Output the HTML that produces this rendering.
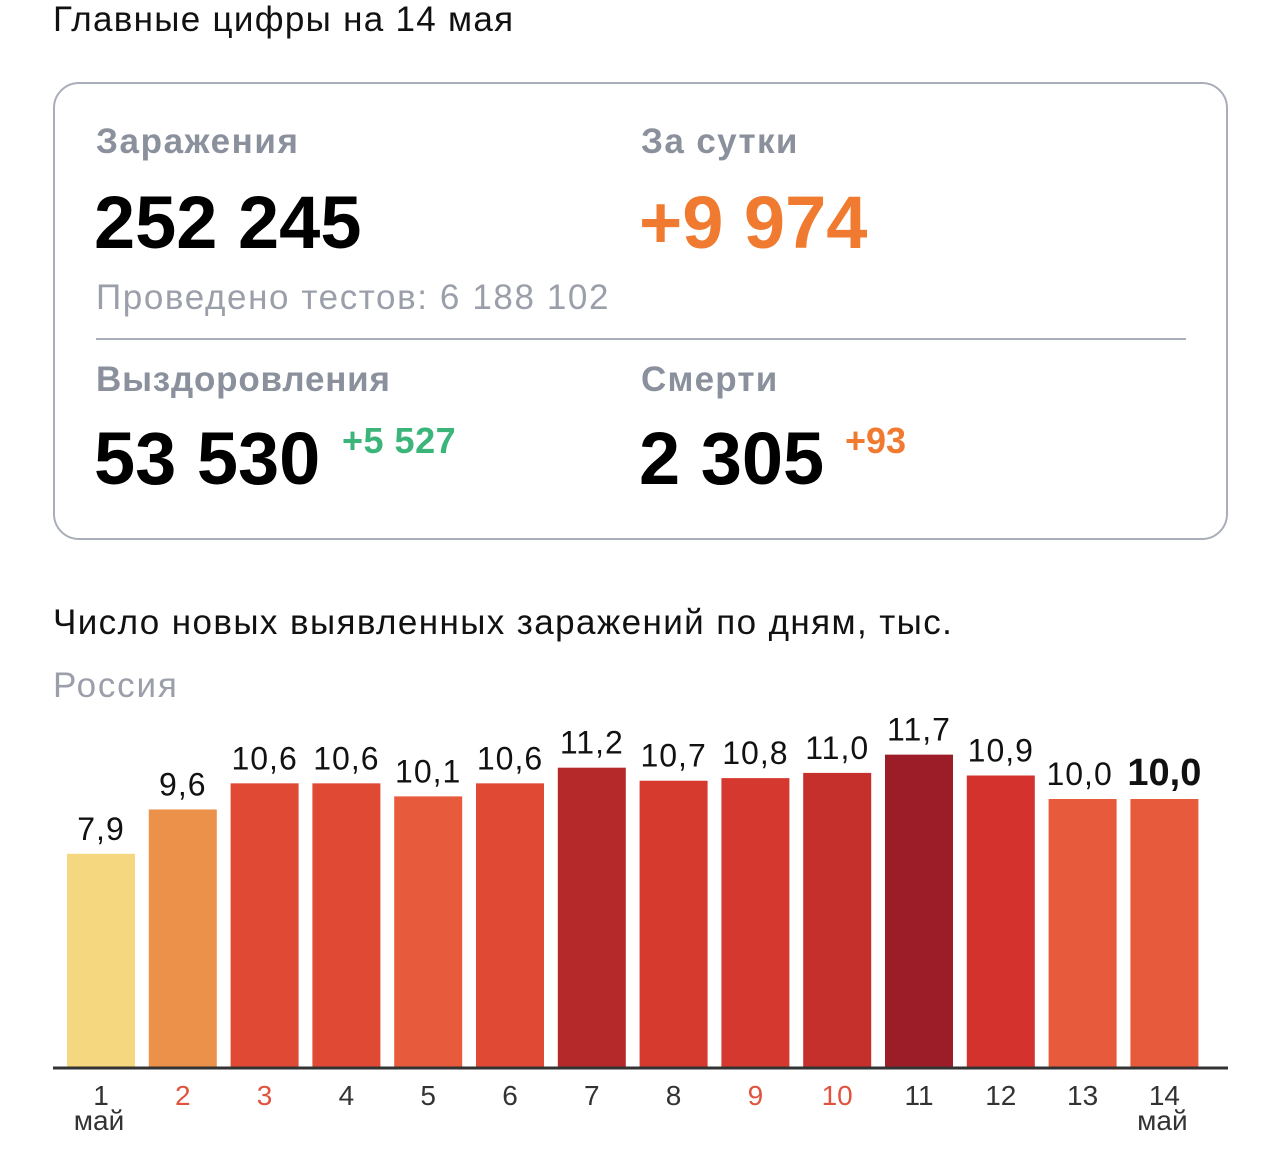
<!DOCTYPE html>
<html><head><meta charset="utf-8"><style>
body{margin:0;width:1280px;height:1156px;background:#fff;font-family:"Liberation Sans",sans-serif;position:relative;overflow:hidden}
.a{position:absolute;white-space:nowrap}
</style></head><body>
<div class="a" style="left:53px;top:0px;font-size:35px;letter-spacing:1.3px;color:#111">Главные цифры на 14 мая</div>
<div class="a" style="left:53px;top:82px;width:1171px;height:454px;border:2.5px solid #a9aeb8;border-radius:26px"></div>
<div class="a" style="left:96px;top:122px;font-size:35px;letter-spacing:1.6px;color:#8a909c;font-weight:bold">Заражения</div>
<div class="a" style="left:94px;top:180px;font-size:74px;font-weight:bold;color:#000;letter-spacing:0px">252 245</div>
<div class="a" style="left:96px;top:278px;font-size:35px;letter-spacing:1.6px;color:#9a9fa9">Проведено тестов: 6 188 102</div>
<div class="a" style="left:641px;top:122px;font-size:35px;letter-spacing:1.4px;color:#8a909c;font-weight:bold">За сутки</div>
<div class="a" style="left:639px;top:180px;font-size:74px;font-weight:bold;color:#ef7a30;letter-spacing:0px">+9 974</div>
<div class="a" style="left:96px;top:338px;width:1090px;height:2px;background:#a9aeb8"></div>
<div class="a" style="left:96px;top:360px;font-size:35px;letter-spacing:0.8px;color:#8a909c;font-weight:bold">Выздоровления</div>
<div class="a" style="left:94px;top:416px;font-size:74px;font-weight:bold;color:#000;letter-spacing:0px">53 530</div>
<div class="a" style="left:342px;top:420px;font-size:36px;font-weight:bold;color:#3bb57a;letter-spacing:0.5px">+5 527</div>
<div class="a" style="left:641px;top:360px;font-size:35px;letter-spacing:1.2px;color:#8a909c;font-weight:bold">Смерти</div>
<div class="a" style="left:639px;top:416px;font-size:74px;font-weight:bold;color:#000;letter-spacing:0px">2 305</div>
<div class="a" style="left:845px;top:420px;font-size:36px;font-weight:bold;color:#ef7a30;letter-spacing:0px">+93</div>
<div class="a" style="left:53px;top:603px;font-size:35px;letter-spacing:1.4px;color:#111">Число новых выявленных заражений по дням, тыс.</div>
<div class="a" style="left:53px;top:666px;font-size:35px;letter-spacing:1.8px;color:#9a9fa9">Россия</div>
<svg class="a" style="left:0;top:0" width="1280" height="1156" id="chart"></svg>
<script>
const days=["1","2","3","4","5","6","7","8","9","10","11","12","13","14"];
const values=[7.9,9.6,10.6,10.6,10.1,10.6,11.2,10.7,10.8,11.0,11.7,10.9,10.0,10.0];
const valueLabels=["7,9","9,6","10,6","10,6","10,1","10,6","11,2","10,7","10,8","11,0","11,7","10,9","10,0","10,0"];
const barColors=["#f5d77f","#ec914a","#e04a35","#e04a35","#e85a3c","#e04a35","#b5292a","#d63a2f","#d5382e","#c52f2c","#9c1d28","#d3332c","#e85a3c","#e85a3c"];
const holidayDays=["2","3","9","10"];
const NS="http://www.w3.org/2000/svg";
const svg=document.getElementById('chart');
const x=i=>67+i*81.8, bw=68, base=1067;
const y=v=>1060-26.1*v;
function mk(t,a){const e=document.createElementNS(NS,t);for(const k in a)e.setAttribute(k,a[k]);svg.appendChild(e);return e;}
values.forEach((v,i)=>{
  const r=mk('rect',{x:x(i),y:y(v),width:bw,height:base-y(v),fill:barColors[i]});
  
  
  const last=i===values.length-1;
  const t=mk('text',{x:x(i)+bw/2+(i===12?-3:0)+(last?0:0),y:y(v)-14,'text-anchor':'middle','font-size':last?38:32,'letter-spacing':last?0:1,'font-weight':last?'bold':'normal',fill:'#111','font-family':'Liberation Sans, sans-serif'});
  t.textContent=valueLabels[i];
  
  
  const d=mk('text',{x:x(i)+bw/2,y:1105,'text-anchor':'middle','font-size':28,fill:holidayDays.includes(days[i])?'#e0533f':'#333','font-family':'Liberation Sans, sans-serif'});
  d.textContent=days[i];
  
  
});
const ax=mk('line',{x1:53,x2:1228,y1:1068,y2:1068,stroke:'#333','stroke-width':3});


[0,13].forEach(i=>{
  const m=mk('text',{x:x(i)+bw/2-2,y:1130,'text-anchor':'middle','font-size':28,fill:'#333','font-family':'Liberation Sans, sans-serif'});
  m.textContent='май';
  
  
});
</script>
</body></html>
